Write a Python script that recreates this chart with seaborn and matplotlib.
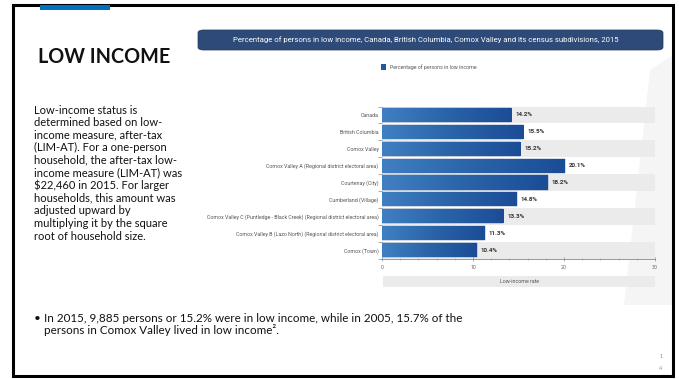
import matplotlib
matplotlib.use("Agg")
import matplotlib.pyplot as plt
import matplotlib.patches as mpatches
from matplotlib.colors import LinearSegmentedColormap
import numpy as np
import pandas as pd
import seaborn as sns

# ---------------- data ----------------
categories = [
    "Canada",
    "British Columbia",
    "Comox Valley",
    "Comox Valley A (Regional district electoral area)",
    "Courtenay (City)",
    "Cumberland (Village)",
    "Comox Valley C (Puntledge - Black Creek) (Regional district electoral area)",
    "Comox Valley B (Lazo North) (Regional district electoral area)",
    "Comox (Town)",
]
values = [14.2, 15.5, 15.2, 20.1, 18.2, 14.8, 13.3, 11.3, 10.4]
x_ticks = [0, 10, 20, 30]
series_name = "Percentage of persons in low income"
chart_title = ("Percentage of persons in low income, Canada, British Columbia, "
               "Comox Valley and its census subdivisions, 2015")
x_title = "Low-income rate"
slide_title = "LOW INCOME"
body_lines = [
    "Low-income status is",
    "determined based on low-",
    "income measure, after-tax",
    "(LIM-AT). For a one-person",
    "household, the after-tax low-",
    "income measure (LIM-AT) was",
    "$22,460 in 2015. For larger",
    "households, this amount was",
    "adjusted upward by",
    "multiplying it by the square",
    "root of household size.",
]
bullet_lines = [
    "In 2015, 9,885 persons or 15.2% were in low income, while in 2005, 15.7% of the",
    "persons in Comox Valley lived in low income\u00b2.",
]
page_number = ["1", "4"]

df = pd.DataFrame({"category": categories, "value": values})

# ---------------- figure ----------------
W, H = 679, 379
sns.set_theme(style="white")
plt.rcParams["font.family"] = ["Lato", "DejaVu Sans"]
fig = plt.figure(figsize=(W / 100, H / 100), dpi=100)
fig.patch.set_facecolor("white")

def fx(x):
    return x / W

def fy(y):
    return 1 - y / H

narrow = ["Liberation Sans Narrow", "Roboto", "DejaVu Sans"]

# faint watermark shapes
fig.add_artist(mpatches.Polygon(
    [(fx(650), fy(70)), (fx(673), fy(55)), (fx(673), fy(305)), (fx(624), fy(305))],
    closed=True, transform=fig.transFigure, facecolor="#f5f5f5", edgecolor="none", zorder=0))

# slide border
fig.add_artist(mpatches.Rectangle((fx(13), fy(376)), fx(673) - fx(13), fy(5) - fy(376),
                                  transform=fig.transFigure, fill=False,
                                  edgecolor="black", linewidth=2.2, zorder=5))
# blue accent
fig.add_artist(mpatches.Rectangle((fx(40), fy(10)), fx(110) - fx(40), fy(5) - fy(10),
                                  transform=fig.transFigure, facecolor="#0070c0",
                                  edgecolor="none", zorder=6))

# left text
fig.text(fx(38), fy(57), slide_title, fontsize=14.2, fontweight="bold",
         color="#111111", ha="left", va="center")
for i, line in enumerate(body_lines):
    fig.text(fx(34), fy(110 + i * 12.6), line, fontsize=8.0, color="#111111",
             ha="left", va="center")

# bullets
fig.text(fx(34), fy(318.5), "\u2022", fontsize=8.5, color="#111111", ha="left", va="center")
fig.text(fx(44), fy(318.5), bullet_lines[0], fontsize=8.4, color="#111111",
         ha="left", va="center")
fig.text(fx(44), fy(330.5), bullet_lines[1], fontsize=8.4, color="#111111",
         ha="left", va="center")

fig.text(fx(661), fy(357), page_number[0], fontsize=4, color="#888888", ha="center", va="center")
fig.text(fx(661), fy(368), page_number[1], fontsize=4, color="#888888", ha="center", va="center")

# chart banner
fig.add_artist(mpatches.FancyBboxPatch((fx(198), fy(50)), fx(663) - fx(198), fy(30) - fy(50),
                                       boxstyle="round,pad=0,rounding_size=0.008",
                                       transform=fig.transFigure, facecolor="#2d4a79",
                                       edgecolor="#1f3660", linewidth=0.5, zorder=3))
fig.text(fx(426), fy(40), chart_title, fontsize=5.6, color="white",
         ha="center", va="center", family=narrow, zorder=4)

# legend
fig.add_artist(mpatches.Rectangle((fx(381), fy(70)), fx(386) - fx(381), fy(64) - fy(70),
                                  transform=fig.transFigure, facecolor="#1f5aa0",
                                  edgecolor="none", zorder=3))
fig.text(fx(390), fy(67), series_name, fontsize=3.8, color="#555555",
         ha="left", va="center", family=narrow)

# axis title band
fig.add_artist(mpatches.Rectangle((fx(383), fy(287)), fx(655) - fx(383), fy(276) - fy(287),
                                  transform=fig.transFigure, facecolor="#ebebeb",
                                  edgecolor="none", zorder=1))
fig.text(fx(519), fy(281.5), x_title, fontsize=3.8, color="#555555",
         ha="center", va="center", family=narrow, zorder=2)

# ---------------- chart axes ----------------
ax_left, ax_right, ax_top, ax_bottom = 382, 655, 106.5, 258.5
ax = fig.add_axes([fx(ax_left), fy(ax_bottom), fx(ax_right) - fx(ax_left),
                   (ax_bottom - ax_top) / H])
ax.set_facecolor("none")

sns.barplot(data=df, x="value", y="category", orient="h", ax=ax,
            color="#2a64a8", width=0.84, saturation=1, zorder=2)

n = len(categories)
for i in range(n):
    if i % 2 == 0:
        ax.axhspan(i - 0.5, i + 0.5, xmin=0, xmax=1, facecolor="#ebebeb",
                   edgecolor="none", zorder=0)

cmap = LinearSegmentedColormap.from_list("barg", ["#4080c2", "#2a63a8", "#1b4d96"])
grad = np.linspace(0, 1, 256).reshape(1, -1)
for bar in ax.containers[0]:
    x0 = bar.get_x()
    w = bar.get_width()
    y0 = bar.get_y()
    h = bar.get_height()
    im = ax.imshow(grad, extent=[x0, x0 + w, y0 + h, y0], cmap=cmap,
                   aspect="auto", zorder=3, interpolation="bicubic")
    im.set_clip_path(bar)
    bar.set_edgecolor("#1b4a8f")
    bar.set_linewidth(0.3)

for bar, v in zip(ax.containers[0], values):
    ax.text(v + 0.45, bar.get_y() + bar.get_height() / 2, f"{v:.1f}%",
            fontsize=4.5, fontweight="bold", color="#333333", ha="left",
            va="center", family=narrow, zorder=4)

ax.set_xlim(0, 30)
ax.set_ylim(n - 0.5, -0.5)
ax.set_xticks(x_ticks)
ax.set_xticklabels([str(t) for t in x_ticks], fontsize=3.8, color="#666666", family=narrow)
ax.set_xticks(np.arange(0, 31, 2), minor=True)
ax.tick_params(axis="x", which="major", length=3, width=0.5, color="#888888",
               pad=3, direction="inout", bottom=True)
ax.tick_params(axis="x", which="minor", length=2, width=0.4, color="#999999",
               direction="inout", bottom=True)
ax.set_yticks(range(n))
ax.set_yticklabels(categories, fontsize=3.8, color="#555555", family=narrow)
ax.set_yticks(np.arange(-0.5, n, 1), minor=True)
ax.tick_params(axis="y", which="major", length=0, pad=2.5)
ax.tick_params(axis="y", which="minor", length=3, width=0.5, color="#888888",
               left=True)
ax.set_xlabel("")
ax.set_ylabel("")
for s in ["top", "right", "left"]:
    ax.spines[s].set_visible(False)
ax.spines["bottom"].set_color("#888888")
ax.spines["bottom"].set_linewidth(0.6)
ax.grid(False)

fig.savefig("out.png", dpi=100, facecolor="white")
